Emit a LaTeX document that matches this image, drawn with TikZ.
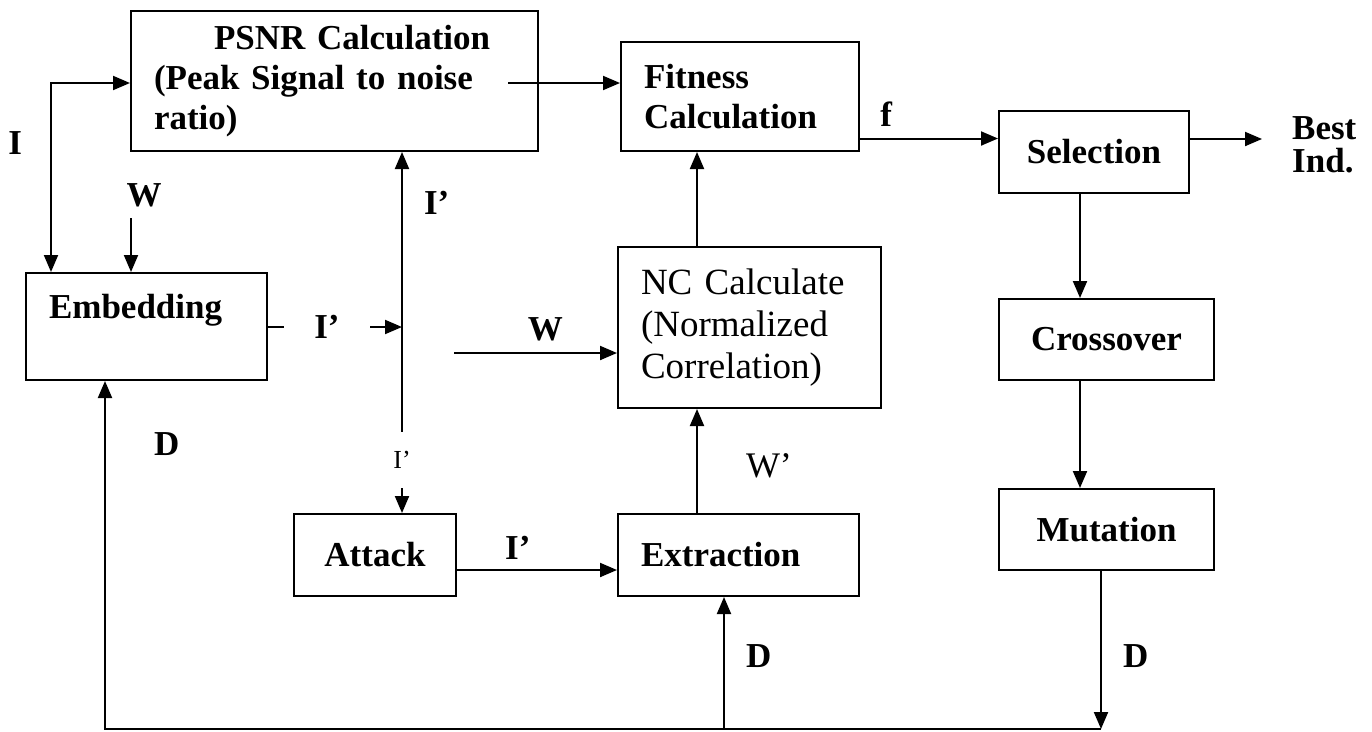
\documentclass[tikz,border=0pt]{standalone}
\usepackage{fontspec}
\setmainfont{Liberation Serif}
\usetikzlibrary{arrows.meta, positioning}

\begin{document}
\begin{tikzpicture}[x=1pt, y=-1pt,
  box/.style={draw, line width=2pt, anchor=north west, inner xsep=23pt, inner ysep=0pt, align=left, font=\bfseries\fontsize{35}{40}\selectfont},
  cbox/.style={box, align=center},
  lbl/.style={inner sep=0pt, font=\bfseries\fontsize{35}{40}\selectfont},
  plain/.style={inner sep=0pt, font=\fontsize{36}{40}\selectfont},
  small/.style={inner sep=0pt, font=\fontsize{26}{30}\selectfont},
  line/.style={draw, line width=2pt, -{Triangle[length=17pt, width=14pt]}},
  twoway/.style={line, {Triangle[length=17pt, width=14pt]}-{Triangle[length=17pt, width=14pt]}}]
  \useasboundingbox (0,0) rectangle (1372,731);

  % blocks
  \node [box, text width=361pt, minimum height=140pt] (psnr) at (130,10) {\hspace*{60pt}PSNR Calculation\\(Peak Signal to noise\\ratio)};
  \node [box, text width=192pt, minimum height=109pt] (fit) at (620,41) {Fitness\\Calculation};
  \node [cbox, text width=144pt, minimum height=82pt] (sel) at (998,110) {Selection};
  \node [box, text width=195pt, minimum height=107pt] (emb) at (25,272) {Embedding\\~};
  \node [box, text width=217pt, minimum height=161pt, font=\fontsize{37}{42}\selectfont] (nc) at (617,246) {NC Calculate\\(Normalized\\Correlation)};
  \node [cbox, text width=169pt, minimum height=81pt] (cross) at (998,298) {Crossover};
  \node [cbox, text width=116pt, minimum height=82pt] (att) at (293,513) {Attack};
  \node [box, text width=195pt, minimum height=82pt] (ext) at (617,513) {Extraction};
  \node [cbox, text width=169pt, minimum height=81pt] (mut) at (998,488) {Mutation};
  \node [lbl, anchor=west, inner xsep=30pt, align=left, font=\bfseries\fontsize{35}{33}\selectfont] (best) at (1262,145) {Best\\Ind.};

  % free ends
  \coordinate (wsrc) at (131,218);
  \coordinate (split) at (402,327);
  \coordinate (wnc) at (454,353);
  \coordinate (pout) at (508,83);
  \coordinate (gx) at (1080,0);
  \coordinate (vx) at (697,0);
  \coordinate (bot) at (1101,729);
  \coordinate (botl) at (105,729);
  \coordinate (botx) at (724,729);

  % connectors
  \draw [twoway] ([xshift=26pt]emb.north west) |- node[lbl, pos=0.34, left=28pt] {I} (psnr.west |- pout);
  \draw [line] (wsrc) node[lbl, above=10pt, xshift=13pt] {W} -- (wsrc |- emb.north);
  \draw [line] (emb.east |- split) -- node[lbl, pos=0.44, fill=white, inner xsep=30pt] {I’} (split);
  \draw [line] (split) -- node[lbl, pos=0.71, right=21pt] {I’} (split |- psnr.south);
  \draw [line] (split) -- node[small, pos=0.715, fill=white, inner ysep=19pt] {I’} (split |- att.north);
  \draw [line] (pout) -- (pout -| fit.west);
  \draw [line] (wnc) -- node[lbl, pos=0.56, above=11pt] {W} (wnc -| nc.west);
  \draw [line] ([yshift=-15pt]att.east) -- node[lbl, pos=0.38, above=10pt] {I’} ([yshift=-15pt]att.east -| ext.west);
  \draw [line] (ext.north -| vx) -- node[plain, pos=0.45, right=48pt] {W’} (nc.south -| vx);
  \draw [line] (nc.north -| vx) -- (fit.south -| vx);
  \draw [line] ([yshift=-42pt]fit.east) -- node[lbl, pos=0.19, above=11pt] {f} ([yshift=-42pt]fit.east -| sel.west);
  \draw [line] ([yshift=13pt]sel.east) -- ([yshift=13pt]sel.east -| best.west);
  \draw [line] (sel.south -| gx) -- (cross.north -| gx);
  \draw [line] (cross.south -| gx) -- (mut.north -| gx);
  \draw [line] (mut.south -| bot) -- node[lbl, pos=0.54, right=21pt] {D} (bot);
  \draw [line] (bot) -- (botl) -- node[lbl, pos=0.82, right=48pt] {D} (botl |- emb.south);
  \draw [line] (botx) -- node[lbl, pos=0.55, right=21pt] {D} (botx |- ext.south);
\end{tikzpicture}
\end{document}
